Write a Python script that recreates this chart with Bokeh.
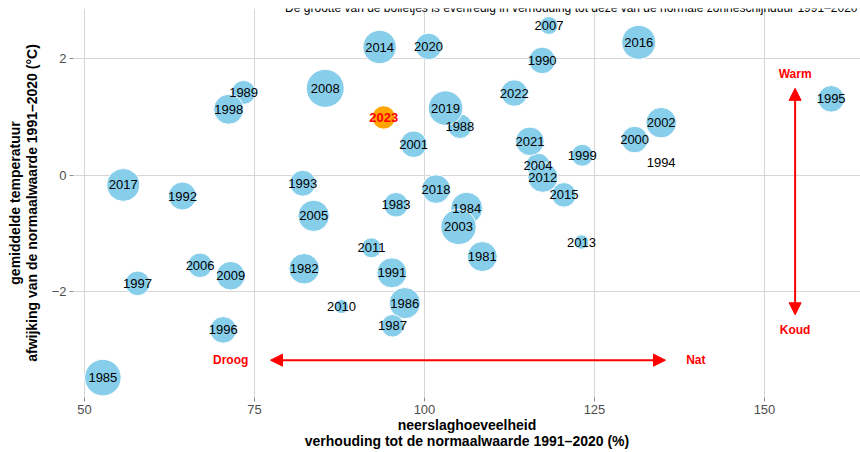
import math
from bokeh.plotting import figure
from bokeh.models import ColumnDataSource, Arrow, NormalHead, Label, FixedTicker, Range1d
from bokeh.core.properties import value
from bokeh.embed import file_html
from bokeh.resources import INLINE

# ---- data ----
jaar = list(range(1981, 2024))
neerslag = [108.5, 82.3, 95.8, 106.2, 52.7, 97.1, 95.3, 105.2, 73.4, 117.3,
            95.2, 64.4, 82.1, 134.8, 159.8, 70.4, 57.8, 71.2, 123.2, 130.9,
            98.4, 134.8, 105.0, 116.7, 83.7, 67.0, 118.3, 85.4, 71.5, 87.8,
            92.2, 117.4, 123.1, 93.4, 120.5, 131.5, 55.7, 101.7, 103.1, 100.6,
            115.5, 113.2, 94.0]
temperatuur = [-1.40, -1.61, -0.51, -0.57, -3.48, -2.20, -2.59, 0.84, 1.42, 1.97,
               -1.68, -0.36, -0.14, 0.21, 1.31, -2.66, -1.86, 1.13, 0.34, 0.61,
               0.53, 0.90, -0.89, 0.17, -0.70, -1.55, 2.57, 1.49, -1.73, -2.26,
               -1.25, -0.04, -1.15, 2.20, -0.34, 2.28, -0.17, -0.24, 1.15, 2.21,
               0.58, 1.41, 0.99]
zon = [103.8, 105.6, 89.7, 109.8, 125.0, 107.4, 85.1, 89.7, 88.3, 94.6,
       103.8, 98.3, 93.1, float("nan"), 94.6, 94.6, 89.7, 103.8, 83.8, 94.6,
       94.6, 105.6, 120.8, 88.3, 108.0, 89.7, 76.2, 130.0, 99.9, 70.0,
       79.8, 103.8, 70.8, 114.2, 89.7, 116.2, 112.9, 99.9, 118.1, 94.6,
       99.9, 94.6, 86.9]
x_ticks = [50, 75, 100, 125, 150]
y_ticks = [-2, 0, 2]
huidig_jaar = 2023
ondertitel = "De grootte van de bolletjes is evenredig in verhouding tot deze van de normale zonneschijnduur 1991\u20132020"

# ---- size scale (area proportional) ----
ZMIN, ZMAX, RMIN, RMAX = 70.0, 130.0, 7.0, 19.0
def diameter(z):
    return 2 * math.sqrt(RMIN**2 + (z - ZMIN) / (ZMAX - ZMIN) * (RMAX**2 - RMIN**2))

pts = [(j, x, y, diameter(z)) for j, x, y, z in zip(jaar, neerslag, temperatuur, zon)
       if not math.isnan(z) and j != huidig_jaar]
src_pts = ColumnDataSource(dict(x=[q[1] for q in pts], y=[q[2] for q in pts], s=[q[3] for q in pts]))
cur = [(x, y, diameter(z)) for j, x, y, z in zip(jaar, neerslag, temperatuur, zon) if j == huidig_jaar]
src_cur = ColumnDataSource(dict(x=[c[0] for c in cur], y=[c[1] for c in cur], s=[c[2] for c in cur],
                                t=[str(huidig_jaar)]))
lab = [(j, x, y) for j, x, y in zip(jaar, neerslag, temperatuur) if j != huidig_jaar]
src_lab = ColumnDataSource(dict(x=[l[1] for l in lab], y=[l[2] for l in lab], t=[str(l[0]) for l in lab]))

FONT = "Liberation Sans"
# frame: left 73px, right 860px, top 8px, bottom 398px of the 860x452 page
PX_X = 6.8      # px per % precipitation
PX_Y = 58.35    # px per degree
X_LEFT = 50 - 11 / PX_X
X_RIGHT = 50 + 776 / PX_X
Y_TOP = 167 / PX_Y
Y_BOT = -223 / PX_Y

p = figure(width=860, height=452, output_backend="svg", toolbar_location=None,
           x_range=Range1d(X_LEFT, X_RIGHT), y_range=Range1d(Y_BOT, Y_TOP),
           min_border_left=73, min_border_right=0, min_border_top=8, min_border_bottom=54)
p.outline_line_color = None
p.background_fill_color = "white"

for ax, tk in ((p.xaxis, x_ticks), (p.yaxis, y_ticks)):
    ax.ticker = FixedTicker(ticks=tk)
    ax.axis_line_color = None
    ax.major_tick_in = 0
    ax.major_tick_out = 4
    ax.minor_tick_line_color = None
    ax.major_tick_line_color = "#8c8c8c"
    ax.major_label_text_font = FONT
    ax.major_label_text_font_size = "13px"
    ax.major_label_text_color = "#4d4d4d"
    ax.major_label_standoff = 3
    ax.axis_label_text_font = FONT
    ax.axis_label_text_font_size = "14px"
    ax.axis_label_text_font_style = "bold"
    ax.axis_label_text_color = "black"
    ax.axis_label_text_line_height = 1.05

p.yaxis.major_label_overrides = {-2: "\u22122"}
p.xaxis.axis_label = "neerslaghoeveelheid\nverhouding tot de normaalwaarde 1991\u20132020 (%)"
p.yaxis.axis_label = "gemiddelde temperatuur\nafwijking van de normaalwaarde 1991\u20132020 (\u00b0C)"
p.xaxis.axis_label_standoff = 0
p.yaxis.axis_label_standoff = 9

p.xgrid.ticker = FixedTicker(ticks=x_ticks)
p.ygrid.ticker = FixedTicker(ticks=y_ticks)
for g in (p.xgrid, p.ygrid):
    g.grid_line_color = "#d6d6d6"
    g.grid_line_width = 1
    g.minor_grid_line_color = None

p.scatter("x", "y", size="s", source=src_pts, fill_color="#87CEEB", line_color="white", line_width=1)
p.scatter("x", "y", size="s", source=src_cur, fill_color="#FFA500", line_color="white", line_width=1)
p.text("x", "y", text="t", source=src_lab, text_align="center", text_baseline="middle",
       text_font=value(FONT), text_font_size="13px", text_color="black")
p.text("x", "y", text="t", source=src_cur, text_align="center", text_baseline="middle",
       text_font=value(FONT), text_font_size="13px", text_font_style="bold", text_color="red")

# subtitle at the very top of the page
p.add_layout(Label(x=X_RIGHT - 3 / PX_X, y=Y_TOP + 8 / PX_Y, text=ondertitel,
                   text_align="right", text_baseline="top",
                   text_font=FONT, text_font_size="12px", text_color="black"))

# droog / nat and warm / koud arrows
RED = "red"
def head():
    return NormalHead(size=12, fill_color=RED, line_color=RED)
p.add_layout(Arrow(start=head(), end=head(), x_start=77.35, y_start=-3.18, x_end=135.44, y_end=-3.18,
                   line_color=RED, line_width=2))
p.add_layout(Arrow(start=head(), end=head(), x_start=154.5, y_start=-2.40, x_end=154.5, y_end=1.49,
                   line_color=RED, line_width=2))
for t, x, y in (("Droog", 71.5, -3.18), ("Nat", 139.9, -3.18), ("Warm", 154.5, 1.73), ("Koud", 154.5, -2.66)):
    p.add_layout(Label(x=x, y=y, text=t, text_align="center", text_baseline="middle",
                       text_font=FONT, text_font_size="12px", text_font_style="bold", text_color=RED))

open("out.html", "w").write(file_html(p, INLINE))
